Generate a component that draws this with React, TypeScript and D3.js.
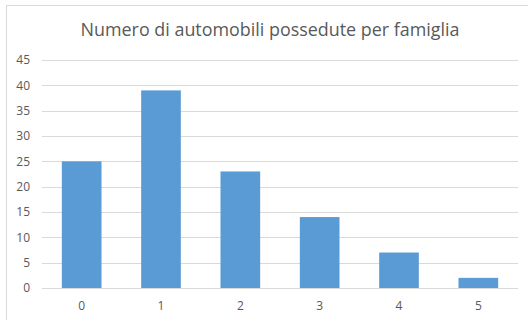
import React from "react";
import * as d3 from "d3";

const categories = ["0", "1", "2", "3", "4", "5"];
const values = [25, 39, 23, 14, 7, 2];
const yTicks = [0, 5, 10, 15, 20, 25, 30, 35, 40, 45];
const title = "Numero di automobili possedute per famiglia";

const W = 528;
const H = 320;
const plot = { left: 42, right: 518, top: 60, bottom: 288 };
const font = "'Open Sans', 'Noto Sans', sans-serif";
const textColor = "#595959";

export default function App() {
  const x = d3
    .scaleBand<string>()
    .domain(categories)
    .range([plot.left, plot.right])
    .paddingInner(0.5)
    .paddingOuter(0.25);
  const y = d3.scaleLinear().domain([0, 45]).range([plot.bottom, plot.top]);

  return (
    <svg
      width={W}
      height={H}
      style={{ position: "absolute", left: 0, top: 0, background: "#fff" }}
    >
      <rect x={6.5} y={5.5} width={W} height={H} fill="#fff" stroke="#D9D9D9" strokeWidth={1} />
      <text
        x={270}
        y={36}
        textAnchor="middle"
        fontFamily={font}
        fontSize={17.9}
        fill={textColor}
      >
        {title}
      </text>
      {yTicks.map((t) => (
        <g key={t}>
          <line
            x1={plot.left}
            x2={plot.right}
            y1={Math.round(y(t)) + 0.5}
            y2={Math.round(y(t)) + 0.5}
            stroke="#D9D9D9"
            strokeWidth={1}
          />
          <text
            x={30}
            y={y(t)}
            dy="0.35em"
            textAnchor="end"
            fontFamily={font}
            fontSize={12}
            fill={textColor}
          >
            {t}
          </text>
        </g>
      ))}
      {categories.map((c, i) => (
        <g key={c}>
          <rect
            x={x(c)}
            y={y(values[i])}
            width={x.bandwidth()}
            height={y(0) - y(values[i])}
            fill="#5B9BD5"
          />
          <text
            x={(x(c) ?? 0) + x.bandwidth() / 2}
            y={306}
            dy="0.35em"
            textAnchor="middle"
            fontFamily={font}
            fontSize={12}
            fill={textColor}
          >
            {c}
          </text>
        </g>
      ))}
    </svg>
  );
}
